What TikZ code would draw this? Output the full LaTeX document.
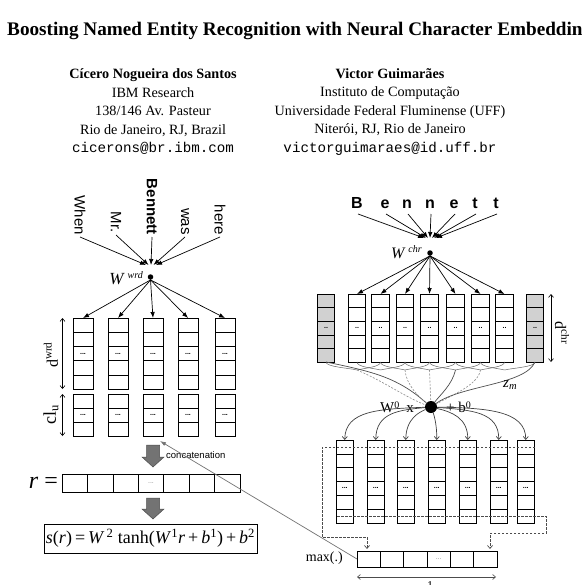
\documentclass[tikz,border=0pt]{standalone}
\usepackage{fontspec}
\setmainfont{Liberation Serif}
\setsansfont{Liberation Sans}
\setmonofont{Liberation Mono}
\usetikzlibrary{arrows.meta,calc}
\begin{document}
\begin{tikzpicture}[x=1pt,y=-1pt,
  col/.style={draw, line width=0.7pt, inner sep=0pt, outer sep=0pt},
  padcol/.style={col, fill=black!18},
  cellline/.style={line width=0.6pt},
  dots/.style={font=\fontsize{7}{7}\selectfont\sffamily\bfseries, inner sep=0pt},
  gdots/.style={font=\fontsize{7}{7}\selectfont\sffamily, text=black!45, inner sep=0pt},
  arr/.style={-{Latex[length=6pt,width=4.5pt]}, line width=0.7pt},
  word/.style={font=\fontsize{15}{15}\selectfont\sffamily, rotate=-90, anchor=east, inner sep=2pt},
  letter/.style={font=\fontsize{16}{16}\selectfont\sffamily\bfseries, inner sep=0pt, anchor=base},
  dim/.style={{Straight Barb[length=3pt,width=5pt]}-{Straight Barb[length=3pt,width=5pt]}, line width=0.6pt},
  scal/.style={line width=0.5pt, black!60},
  conn/.style={line width=0.7pt, black!70},
  dconn/.style={line width=0.6pt, black!45, dash pattern=on 2pt off 1.5pt},
  carr/.style={-{Straight Barb[length=3pt,width=5pt]}, line width=0.7pt, black!75},
  dbox/.style={line width=0.7pt, black!70, dash pattern=on 2.5pt off 1.5pt, -{Straight Barb[length=3pt,width=5pt]}},
  block/.style={fill=black!55, draw=black!70, line width=0.5pt},
  blob/.style={circle, fill=black, inner sep=0pt, minimum size=#1},
  serif/.style={font=\fontsize{#1}{#1}\selectfont, inner sep=0pt},
]
\useasboundingbox (0,0) rectangle (581,585);
\fill[white] (0,0) rectangle (581,585);
\clip (0,0) rectangle (581,585);

% ---------- title and authors ----------
\node[anchor=base west, font=\fontsize{19.2}{20}\selectfont\bfseries, inner sep=0pt] (title) at (7,36)
  {Boosting Named Entity Recognition with Neural Character Embeddings};
\node[align=center, font=\fontsize{14.2}{18.5}\selectfont, inner sep=0pt] (auth1) at (153,112)
  {\textbf{Cícero Nogueira dos Santos}\\IBM Research\\138/146 Av. Pasteur\\Rio de Janeiro, RJ, Brazil\\\texttt{cicerons@br.ibm.com}};
\node[align=center, font=\fontsize{14.2}{18.5}\selectfont, inner sep=0pt] (auth2) at (390,112)
  {\textbf{Victor Guimarães}\\Instituto de Computação\\Universidade Federal Fluminense (UFF)\\Niterói, RJ, Rio de Janeiro\\\texttt{victorguimaraes@id.uff.br}};

% ---------- LEFT: word level ----------
\node[word] (w1) at (80,237) {When};
\node[word] (w2) at (116,235) {Mr.};
\node[word, font=\fontsize{15}{15}\selectfont\sffamily\bfseries] (w3) at (152,237) {Bennett};
\node[word] (w4) at (185,237) {was};
\node[word] (w5) at (220,237) {here};
\coordinate (hl1) at (146,265);
\coordinate (hl2) at (148.5,265);
\coordinate (hl3) at (151,265);
\coordinate (hl4) at (153.5,265);
\coordinate (hl5) at (156,265);
\foreach \i in {1,...,5} \draw[arr] (w\i.east) -- (hl\i);

\node[blob=5.5pt] (dl) at (150.5,277) {};
\node[serif=17, anchor=east] (wwrd) at (143,278) {\textit{W}\,\raisebox{6pt}{\fontsize{10}{10}\selectfont\textit{wrd}}};

\foreach \i/\x in {1/83,2/118,3/153,4/188,5/225}{
  \node[col, minimum width=20pt, minimum height=71pt] (u\i) at (\x,353.5) {};
  \foreach \k in {1,...,4}
    \draw[cellline] ($(u\i.north west)!\k/5!(u\i.south west)$) -- ($(u\i.north east)!\k/5!(u\i.south east)$);
  \node[dots] at (u\i.center) {...};
  \node[col, minimum width=20pt, minimum height=42pt] (l\i) at (\x,415) {};
  \foreach \k in {1,2}
    \draw[cellline] ($(l\i.north west)!\k/3!(l\i.south west)$) -- ($(l\i.north east)!\k/3!(l\i.south east)$);
  \node[dots] at (l\i.center) {...};
  \draw[arr] (dl.south) -- (u\i.north);
}
\draw[dim] (u1.north west -| 62.5,0) -- (u1.south west -| 62.5,0);
\draw[dim] (l1.north west -| 62.5,0) -- (l1.south west -| 62.5,0);
\node[serif=16, rotate=90] (dwrd) at (51,355) {d\textsuperscript{wrd}};
\node[serif=18, rotate=90] (clu) at (51,415) {cl\textsubscript{u}};

% block arrows and concatenation
\path[block] (146.5,445) -- (159.5,445) -- (159.5,457) -- (164,457) -- (153,467) -- (142,457) -- (146.5,457) -- cycle;
\node[font=\fontsize{9.5}{9.5}\selectfont\sffamily, anchor=west, inner sep=0pt] (concat) at (166,455) {concatenation};

\node[serif=24, anchor=east] (req) at (58,483) {\textit{r} =};
\node[col, minimum width=178pt, minimum height=18pt] (rv) at (151,483) {};
\foreach \k in {1,...,6}
  \draw[cellline] ($(rv.north west)!\k/7!(rv.north east)$) -- ($(rv.south west)!\k/7!(rv.south east)$);
\node[gdots] at (rv.center) {...};

\path[block] (146.5,498) -- (159.5,498) -- (159.5,509) -- (164,509) -- (153,519) -- (142,509) -- (146.5,509) -- cycle;

\node[draw, line width=0.7pt, minimum width=213pt, minimum height=29pt, inner sep=0pt, font=\fontsize{18}{18}\selectfont] (fbox) at (150.5,538.5)
  {\textit{s}(\textit{r})\,=\,\textit{W}\textsuperscript{\,2} tanh(\textit{W}\textsuperscript{1}\textit{r}\,+\,\textit{b}\textsuperscript{1})\,+\,\textit{b}\textsuperscript{2}};

% ---------- RIGHT: character level ----------
\foreach \i/\x/\c in {1/357/B,2/385/e,3/407/n,4/430/n,5/454/e,6/475/t,7/496/t}
  \node[letter] (ch\i) at (\x,208) {\c};
\foreach \i/\x in {1/424,2/426,3/428,4/430,5/432,6/434,7/436}
  \coordinate (hr\i) at (\x,238);
\foreach \i in {1,...,7} \draw[arr] ($(ch\i.base)+(1,6)$) -- (hr\i);

\node[blob=5.5pt] (dr) at (430,253) {};
\node[serif=16, anchor=east] (wchr) at (422,252) {\textit{W}\,\raisebox{6pt}{\fontsize{10}{10}\selectfont\textit{chr}}};

\node[padcol, minimum width=17.5pt, minimum height=68pt] (c0) at (326,328) {};
\node[padcol, minimum width=17pt, minimum height=68pt] (c8) at (535,328) {};
\foreach \i/\x in {1/357,2/380.5,3/405,4/429.5,5/455.5,6/480.5,7/504.5}{
  \node[col, minimum width=17.5pt, minimum height=68pt] (c\i) at (\x,328) {};
  \draw[arr] (dr.south) -- (c\i.north);
}
\foreach \i in {0,...,8}{
  \foreach \k in {1,...,4}
    \draw[cellline] ($(c\i.north west)!\k/5!(c\i.south west)$) -- ($(c\i.north east)!\k/5!(c\i.south east)$);
  \node[dots] at (c\i.center) {..};
}
\draw[dim] (551,294) -- (551,362);
\node[serif=16, rotate=-90] (dchr) at (562,333) {d\textsuperscript{chr}};

% convolution window curves
\foreach \m in {1,...,7}{
  \pgfmathtruncatemacro{\a}{\m-1}
  \pgfmathtruncatemacro{\b}{\m+1}
  \coordinate (j\m) at ($(c\m.south)+(0,8)$);
  \draw[scal] (c\a.south) .. controls +(0,5) and +(-8,-2) .. (j\m);
  \draw[scal] (c\b.south) .. controls +(0,5) and +(8,-2) .. (j\m);
}
\node[blob=12pt] (bd) at (431,407) {};
\draw[conn] (c0.south) .. controls (375,372) and (398,378) .. (bd);
\draw[dconn] (j1) .. controls (385,382) and (405,397) .. (bd);
\draw[dconn] (j3) .. controls (406,385) and (420,398) .. (bd);
\draw[dconn] (j4) -- (bd);
\draw[conn] (j5) .. controls (452,385) and (440,395) .. (bd);
\draw[dconn] (j6) .. controls (478,385) and (452,395) .. (bd);
\draw[conn] (c8.south) .. controls (525,385) and (462,385) .. (bd);
\node[serif=15, anchor=west] (zm) at (503,385) {\textit{z}\textsubscript{\textit{m}}};
\node[serif=15, anchor=base east] (w0) at (414,412) {W\raisebox{4pt}{\fontsize{10}{10}\selectfont 0}\hspace{7pt}x};
\node[serif=15, anchor=base west] (b0) at (446,412) {+ b\raisebox{4pt}{\fontsize{10}{10}\selectfont 0}};

% lower columns
\foreach \i/\x in {1/344.75,2/375.75,3/405.75,4/436.75,5/467.75,6/498.75,7/525.75}{
  \node[col, minimum width=17.5pt, minimum height=83pt] (b\i) at (\x,481.5) {};
  \foreach \k in {1,...,5}
    \draw[cellline] ($(b\i.north west)!\k/6!(b\i.south west)$) -- ($(b\i.north east)!\k/6!(b\i.south east)$);
  \node[dots] at ($(b\i.north)!3.5/6!(b\i.south)$) {...};
}
\draw[carr] (bd) .. controls (380,409) and (345,410) .. (b1.north);
\draw[carr] (bd) .. controls (400,410) and (376,412) .. (b2.north);
\draw[carr] (bd) .. controls (420,412) and (406,418) .. (b3.north);
\draw[carr] (bd) .. controls (434,415) and (437,425) .. (b4.north);
\draw[carr] (bd) .. controls (452,412) and (468,418) .. (b5.north);
\draw[carr] (bd) .. controls (472,410) and (499,412) .. (b6.north);
\draw[carr] (bd) .. controls (485,408) and (526,410) .. (b7.north);

% max pooling
\node[col, minimum width=140pt, minimum height=16pt] (mv) at (427,559) {};
\foreach \k in {1,...,5}
  \draw[cellline] ($(mv.north west)!\k/6!(mv.north east)$) -- ($(mv.south west)!\k/6!(mv.south east)$);
\node[gdots] at ($(mv.west)!3.5/6!(mv.east)$) {...};
\node[serif=14, anchor=east] (maxl) at (343,558) {max(.)};
\draw[dbox] (535,447) -- (322,447) -- (322,537) -- (367,537) -- (367,549);
\draw[dbox] (337,516) -- (546,516) -- (546,533) -- (490,533) -- (490,549);
\draw[dim, black!70] (357,577) -- (496,577);
\node[serif=12, anchor=north] (one) at (430,581) {1};

% link between the two halves
\coordinate (tgt) at (160,441);
\draw[-{Latex[length=6pt,width=4pt]}, black!55, line width=0.7pt] (mv.west) -- (tgt);
\end{tikzpicture}
\end{document}
